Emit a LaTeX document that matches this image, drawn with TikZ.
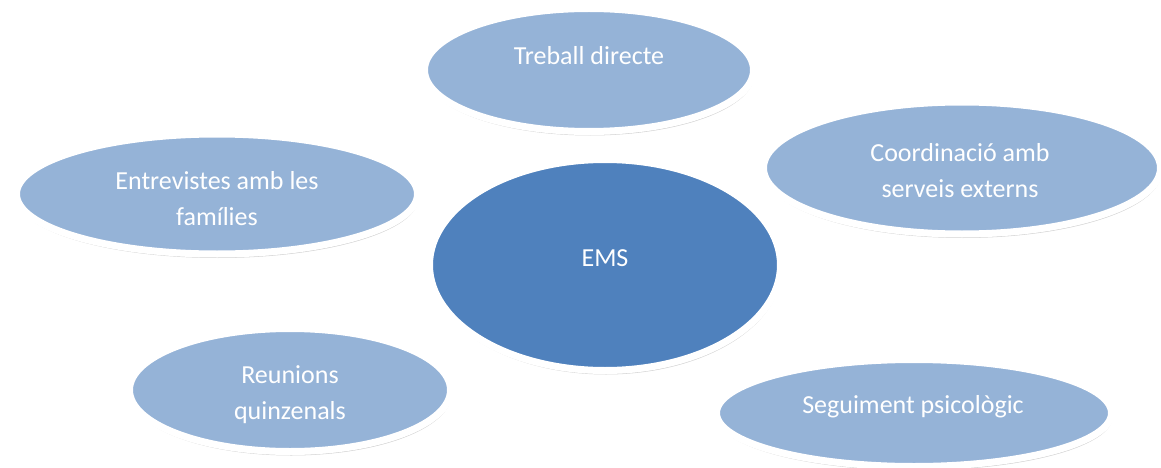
\documentclass[tikz,border=0pt]{standalone}
\usepackage{fontspec}
\setmainfont{Carlito}
\usepackage{tikz}
\usetikzlibrary{shapes.geometric,shadows}

\definecolor{lightblue}{RGB}{149,179,215}
\definecolor{darkblue}{RGB}{79,129,189}

\begin{document}
\begin{tikzpicture}[x=1pt,y=-1pt]
		\tikzstyle{bubble}=[ellipse, draw=white, line width=7pt, fill=lightblue, inner sep=0pt,
			drop shadow={opacity=0.35, shadow xshift=1pt, shadow yshift=-4pt}]
		\tikzstyle{core}=[bubble, fill=darkblue]
		\tikzstyle{txt}=[text=white, align=center, anchor=base, inner sep=0pt,
			font=\fontsize{26}{36}\selectfont]

		\useasboundingbox (0,0) rectangle (1161,468);

		\node [bubble, minimum width=329pt, minimum height=123pt] (treball) at (589,70) {};
		\node [txt] (ttreball) at (589,65) {Treball directe};

		\node [bubble, minimum width=401pt, minimum height=120pt] (entrev) at (217,194) {};
		\node [txt] (tentrev) at (217,225) {Entrevistes amb les\\famílies};

		\node [bubble, minimum width=397pt, minimum height=132pt] (coord) at (962,168) {};
		\node [txt] (tcoord) at (960,197) {Coordinació amb\\serveis externs};

		\node [core, minimum width=351pt, minimum height=211pt] (ems) at (605,265) {};
		\node [txt] (tems) at (605,266) {EMS};

		\node [bubble, minimum width=321pt, minimum height=123pt] (reun) at (290,390) {};
		\node [txt] (treun) at (290,419) {Reunions\\quinzenals};

		\node [bubble, minimum width=395pt, minimum height=107pt] (segui) at (914,413) {};
		\node [txt] (tsegui) at (913,413) {Seguiment psicològic};
	\end{tikzpicture}
\end{document}
